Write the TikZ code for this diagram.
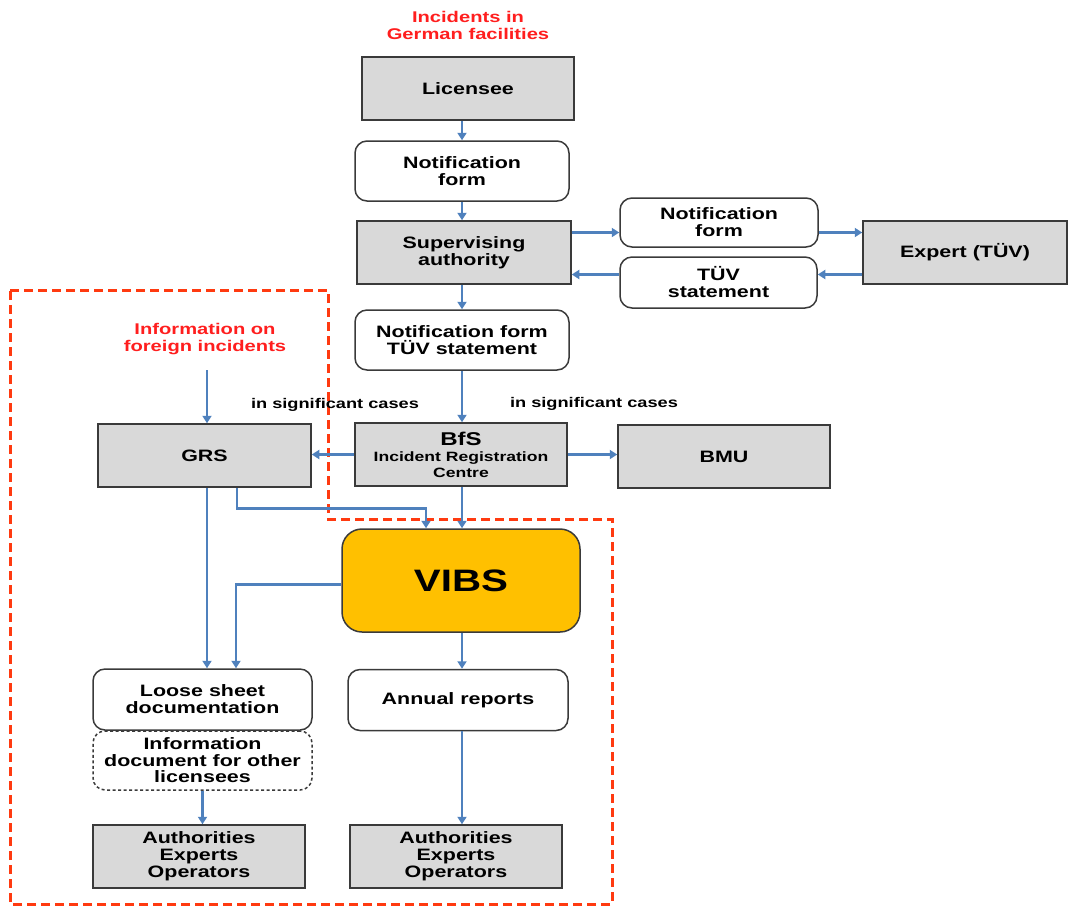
\documentclass[tikz,border=0pt]{standalone}
\usepackage{fontspec}
\setmainfont{Liberation Sans}[FakeStretch=1.3]
\usetikzlibrary{arrows.meta}
\definecolor{flowblue}{HTML}{4F81BD}
\definecolor{boxgray}{HTML}{D9D9D9}
\definecolor{boxline}{HTML}{3A3A3A}
\definecolor{vibsgold}{HTML}{FFC000}
\definecolor{zonered}{HTML}{FF3A10}
\definecolor{headred}{HTML}{FF1E1E}
\begin{document}
\begin{tikzpicture}[x=1pt,y=-1pt,
  every node/.style={align=center, inner sep=0pt,
    font=\bfseries\fontsize{16.5}{17}\selectfont},
  graybox/.style={draw=boxline, line width=1.5pt, fill=boxgray,
    minimum width=212pt, minimum height=63pt},
  softbox/.style={draw=boxline, line width=1.5pt, fill=white,
    rounded corners=12pt},
  dashbox/.style={softbox, dash pattern=on 3pt off 2.5pt},
  headline/.style={text=headred, font=\bfseries\fontsize{15.5}{17}\selectfont},
  note/.style={font=\bfseries\fontsize{14}{16}\selectfont},
  flow/.style={draw=flowblue, line width=2.7pt,
    -{Triangle[length=7.5pt,width=9pt]}},
  zoneline/.style={draw=zonered, line width=3pt, dash pattern=on 9pt off 5pt}
]
\useasboundingbox (0,0) rectangle (1070,906);

% dashed zone around the VIBS part of the process
\draw[zoneline] (10,290) -- (328,290) -- (328,519) -- (612,519)
  -- (612,904) -- (10,904) -- cycle;

% headings
\node[headline] (head) at (468,25) {Incidents in\\German facilities};
\node[headline] (forinfo) at (205,339) {Information on\\foreign incidents};
\node[note] (sig1) at (335,404.5) {in significant cases};
\node[note] (sig2) at (594,403.5) {in significant cases};

% reporting chain
\node[graybox] (lic) at (468,88.5) {Licensee};
\node[softbox, minimum width=214pt, minimum height=60pt] (nf1) at (462,171) {Notification\\form};
\node[graybox, minimum width=214pt] (sup) at (464,252.5) {Supervising\\authority};
\node[softbox, minimum width=198pt, minimum height=49pt] (nf2) at (719,222.5) {Notification\\form};
\node[softbox, minimum width=197pt, minimum height=51pt] (tuv) at (718.5,282.5) {TÜV\\statement};
\node[graybox, minimum width=204pt] (exp) at (965,252.5) {Expert (TÜV)};
\node[softbox, minimum width=214pt, minimum height=60pt] (nft) at (462,340) {Notification form\\TÜV statement};
\node[graybox] (bfs) at (461,454.5) {{\fontsize{18.5}{19}\selectfont BfS}\\[-1pt]
  {\fontsize{13.5}{15}\selectfont Incident Registration}\\[-1pt]
  {\fontsize{13.5}{15}\selectfont Centre}};
\node[graybox, minimum width=213pt] (grs) at (204.5,455.5) {GRS};
\node[graybox] (bmu) at (724,456.5) {BMU};

% evaluation and distribution
\node[draw=boxline, line width=1.5pt, fill=vibsgold, rounded corners=20pt,
  minimum width=238pt, minimum height=103pt,
  font=\bfseries\fontsize{31}{33}\selectfont] (vibs) at (461,580.5) {VIBS};
\node[dashbox, minimum width=219pt, minimum height=59pt,
  font=\bfseries\fontsize{16.5}{16.5}\selectfont] (info) at (202.5,760.5)
  {Information\\document for other\\licensees};
\node[softbox, minimum width=219pt, minimum height=61pt] (loose) at (202.5,699.5) {Loose sheet\\documentation};
\node[softbox, minimum width=220pt, minimum height=61pt] (annual) at (458,700) {Annual reports};
\node[graybox] (authL) at (199,856.5) {Authorities\\Experts\\Operators};
\node[graybox] (authR) at (456,856.5) {Authorities\\Experts\\Operators};

% connector guide lines
\coordinate (cx) at (462,0);
\coordinate (rowout) at (0,232.5);
\coordinate (rowback) at (0,274.5);
\coordinate (fx) at (207,370);
\coordinate (gx) at (237,0);
\coordinate (vx) at (426,0);
\coordinate (lx) at (236,0);

% connectors
\draw[flow] (cx |- lic.south) -- (cx |- nf1.north);
\draw[flow] (cx |- nf1.south) -- (cx |- sup.north);
\draw[flow] (sup.east |- rowout) -- (nf2.west |- rowout);
\draw[flow] (nf2.east |- rowout) -- (exp.west |- rowout);
\draw[flow] (exp.west |- rowback) -- (tuv.east |- rowback);
\draw[flow] (tuv.west |- rowback) -- (sup.east |- rowback);
\draw[flow] (cx |- sup.south) -- (cx |- nft.north);
\draw[flow] (cx |- nft.south) -- (cx |- bfs.north);
\draw[flow] (bfs.west) -- (grs.east |- bfs.west);
\draw[flow] (bfs.east) -- (bmu.west |- bfs.east);
\draw[flow] (fx) -- (fx |- grs.north);
\draw[flow] (grs.south -| gx) -- ++(0,21) -| (vibs.north -| vx);
\draw[flow] (cx |- bfs.south) -- (cx |- vibs.north);
\draw[flow] (fx |- grs.south) -- (fx |- loose.north);
\draw[flow] ([yshift=-4pt]vibs.west) -| (loose.north -| lx);
\draw[flow] (cx |- vibs.south) -- (cx |- annual.north);
\draw[flow] (cx |- annual.south) -- (cx |- authR.north);
\draw[flow] (info.south) -- (info.south |- authL.north);
\end{tikzpicture}
\end{document}
